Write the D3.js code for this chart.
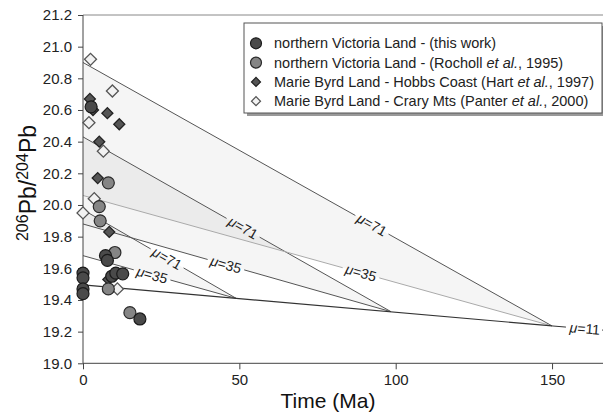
<!DOCTYPE html>
<html>
<head>
<meta charset="utf-8">
<script src="https://cdn.jsdelivr.net/npm/d3@7"></script>
<style>
  body { margin: 0; background: #fff; }
  svg { font-family: "Liberation Sans", Arial, sans-serif; display: block; }
  .axis path, .axis line { stroke: #444; }
  .axis text { fill: #222; font-size: 15px; }
</style>
</head>
<body>
<svg id="chart" width="603" height="412"></svg>
<script>
// ages (Ma) and 206Pb/204Pb
var thisWorkAge = [2.6, 7.2, 7.8, 0, 0, 0, 0, 9.2, 10.5, 12.7, 18.2];
var thisWorkPb  = [20.62, 19.68, 19.65, 19.57, 19.54, 19.47, 19.44, 19.55, 19.57, 19.565, 19.28];

var rochollAge = [8.1, 5.2, 5.5, 10.2, 8.1, 15.0];
var rochollPb  = [20.14, 19.99, 19.90, 19.70, 19.47, 19.32];

var hobbsAge = [2.2, 3.2, 7.8, 11.6, 5.2, 4.7, 8.4, 8.1];
var hobbsPb  = [20.67, 20.60, 20.58, 20.51, 20.40, 20.17, 19.83, 19.53];

var craryAge = [2.4, 9.4, 1.9, 6.5, 3.6, 0, 11.0];
var craryPb  = [20.92, 20.72, 20.52, 20.34, 20.04, 19.95, 19.47];

// growth model lines: apex on the mu=11 curve, back to present day
var apexAge   = [49, 98.5, 150];
var apexPb    = [19.41, 19.326, 19.236];
var mu71Start = [19.97, 20.43, 20.90];
var mu35Start = [19.68, 19.88, 20.06];
var mu71LabelAge = [26.9, 51.2, 92.4];
var mu35LabelAge = [22.1, 45.7, 88.9];

var baseAge = [0, 150, 166];
var basePb  = [19.495, 19.236, 19.21];
var baseLabelAge = 160.5;

var xMajor = [0, 50, 100, 150];
var yMajor = [19.0, 19.2, 19.4, 19.6, 19.8, 20.0, 20.2, 20.4, 20.6, 20.8, 21.0, 21.2];

var legendItems = [
    {shape: "circle", fill: "#4a4a4a", stroke: "#1a1a1a", parts: [["northern Victoria Land - (this work)", false]]},
    {shape: "circle", fill: "#858585", stroke: "#2a2a2a", parts: [["northern Victoria Land - (Rocholl ", false], ["et al.", true], [", 1995)", false]]},
    {shape: "diamond", fill: "#555", stroke: "#222", parts: [["Marie Byrd Land - Hobbs Coast (Hart ", false], ["et al.", true], [", 1997)", false]]},
    {shape: "diamond", fill: "#f2f2f2", stroke: "#555", parts: [["Marie Byrd Land - Crary Mts (Panter ", false], ["et al.", true], [", 2000)", false]]}
];

var svg = d3.select("#chart");

var x = d3.scaleLinear().domain([0, 170]).range([83, 83 + 170 * 3.127]);
var y = d3.scaleLinear().domain([19.0, 21.2]).range([363.3, 15]);

// top frame
svg.append("line")
    .attr("x1", x(0)).attr("x2", 603)
    .attr("y1", y(21.2)).attr("y2", y(21.2))
    .attr("stroke", "#888").attr("stroke-width", 1);

// shaded wedges between mu=35 and mu=71
var gFill = svg.append("g");
apexAge.forEach(function (a, i) {
    var pts = [[x(0), y(mu35Start[i])], [x(0), y(mu71Start[i])], [x(a), y(apexPb[i])]];
    gFill.append("path")
        .attr("d", "M" + pts.join("L") + "Z")
        .attr("fill", "#000")
        .attr("fill-opacity", 0.04);
});

// line with a gap where the label sits
function labelledLine(p0, p1, tLabel, text, color) {
    var x0 = x(p0[0]), y0 = y(p0[1]), x1 = x(p1[0]), y1 = y(p1[1]);
    var len = Math.hypot(x1 - x0, y1 - y0);
    var ux = (x1 - x0) / len, uy = (y1 - y0) / len;
    var lx = x(tLabel), ly = y0 + (lx - x0) * (y1 - y0) / (x1 - x0);
    var gap = 19;
    svg.append("line")
        .attr("x1", x0).attr("y1", y0)
        .attr("x2", lx - ux * gap).attr("y2", ly - uy * gap)
        .attr("stroke", color).attr("stroke-width", 1);
    svg.append("line")
        .attr("x1", lx + ux * gap).attr("y1", ly + uy * gap)
        .attr("x2", x1).attr("y2", y1)
        .attr("stroke", color).attr("stroke-width", 1);
    var ang = Math.atan2(y1 - y0, x1 - x0) * 180 / Math.PI;
    var t = svg.append("text")
        .attr("transform", "translate(" + lx + "," + ly + ") rotate(" + ang + ")")
        .attr("text-anchor", "middle")
        .attr("dy", "0.35em")
        .attr("font-size", 14)
        .attr("fill", "#222");
    t.append("tspan").attr("font-style", "italic").text("\u03bc");
    t.append("tspan").text("=" + text);
}

apexAge.forEach(function (a, i) {
    labelledLine([0, mu71Start[i]], [a, apexPb[i]], mu71LabelAge[i], "71", "#555");
    labelledLine([0, mu35Start[i]], [a, apexPb[i]], mu35LabelAge[i], "35", i === 2 ? "#aaa" : "#555");
});

// mu=11 reference curve
svg.append("path")
    .datum(d3.zip(baseAge, basePb).slice(0, 2))
    .attr("fill", "none").attr("stroke", "#333").attr("stroke-width", 1.2)
    .attr("d", d3.line().x(function (d) { return x(d[0]); }).y(function (d) { return y(d[1]); }));
labelledLine([baseAge[1], basePb[1]], [baseAge[2], basePb[2]], baseLabelAge, "11", "#333");

// axes
var xAxisG = svg.append("g").attr("class", "axis")
    .attr("transform", "translate(0," + y(19.0) + ")");
xAxisG.call(d3.axisBottom(x).tickValues(d3.range(0, 171, 10)).tickSize(3).tickFormat(""));
xAxisG.call(d3.axisBottom(x).tickValues(xMajor).tickSize(6).tickPadding(5).tickFormat(d3.format("d")));
xAxisG.select(".domain").attr("d", "M" + x(0) + ",0H603");

var yAxisG = svg.append("g").attr("class", "axis")
    .attr("transform", "translate(" + x(0) + ",0)");
yAxisG.call(d3.axisLeft(y).tickValues(d3.range(0, 45).map(function (i) { return 19 + i * 0.05; })).tickSize(3).tickFormat(""));
yAxisG.call(d3.axisLeft(y).tickValues(yMajor).tickSize(5).tickPadding(6).tickFormat(d3.format(".1f")));
yAxisG.selectAll(".domain").attr("d", "M0," + y(21.2) + "V" + y(19.0));

// markers
var diamond = d3.symbol().type(d3.symbolSquare);
function drawDiamonds(ages, pbs, half, fill, stroke) {
    svg.append("g").selectAll("path")
        .data(d3.zip(ages, pbs))
        .enter().append("path")
        .attr("transform", function (d) { return "translate(" + x(d[0]) + "," + y(d[1]) + ") rotate(45)"; })
        .attr("d", diamond.size(2 * half * half))
        .attr("fill", fill).attr("stroke", stroke).attr("stroke-width", 1.3);
}
function drawCircles(ages, pbs, r, fill, stroke) {
    svg.append("g").selectAll("circle")
        .data(d3.zip(ages, pbs))
        .enter().append("circle")
        .attr("cx", function (d) { return x(d[0]); })
        .attr("cy", function (d) { return y(d[1]); })
        .attr("r", r)
        .attr("fill", fill).attr("stroke", stroke).attr("stroke-width", 1.2);
}
drawDiamonds(craryAge, craryPb, 6, "#f2f2f2", "#555");
drawDiamonds(hobbsAge, hobbsPb, 5.5, "#555", "#222");
drawCircles(rochollAge, rochollPb, 6, "#858585", "#2a2a2a");
drawCircles(thisWorkAge, thisWorkPb, 6, "#4a4a4a", "#1a1a1a");

// axis titles
svg.append("text")
    .attr("x", 328).attr("y", 408)
    .attr("text-anchor", "middle")
    .attr("font-size", 21).attr("fill", "#111")
    .text("Time (Ma)");

var yl = svg.append("text")
    .attr("transform", "translate(36,183) rotate(-90)")
    .attr("text-anchor", "middle")
    .attr("font-size", 23).attr("fill", "#111");
yl.append("tspan").attr("font-size", 16).attr("dy", -8).text("206");
yl.append("tspan").attr("dy", 8).text("Pb/");
yl.append("tspan").attr("font-size", 16).attr("dy", -8).text("204");
yl.append("tspan").attr("dy", 8).text("Pb");

// legend
var lg = svg.append("g").attr("transform", "translate(244,23)");
lg.append("rect").attr("x", 3).attr("y", 3).attr("width", 358).attr("height", 90).attr("fill", "#999");
lg.append("rect").attr("width", 358).attr("height", 90).attr("fill", "#fff").attr("stroke", "#555");
legendItems.forEach(function (d, i) {
    var cy = 20.3 + i * 19.3;
    if (d.shape === "circle") {
        lg.append("circle").attr("cx", 12).attr("cy", cy).attr("r", 5.5)
            .attr("fill", d.fill).attr("stroke", d.stroke).attr("stroke-width", 1.2);
    } else {
        lg.append("path")
            .attr("transform", "translate(12," + cy + ") rotate(45)")
            .attr("d", diamond.size(2 * 4.5 * 4.5))
            .attr("fill", d.fill).attr("stroke", d.stroke).attr("stroke-width", 1.2);
    }
    var t = lg.append("text").attr("x", 30).attr("y", cy).attr("dy", "0.35em")
        .attr("font-size", 14.5).attr("fill", "#222");
    d.parts.forEach(function (p) {
        t.append("tspan").attr("font-style", p[1] ? "italic" : null).text(p[0]);
    });
});
</script>
</body>
</html>
